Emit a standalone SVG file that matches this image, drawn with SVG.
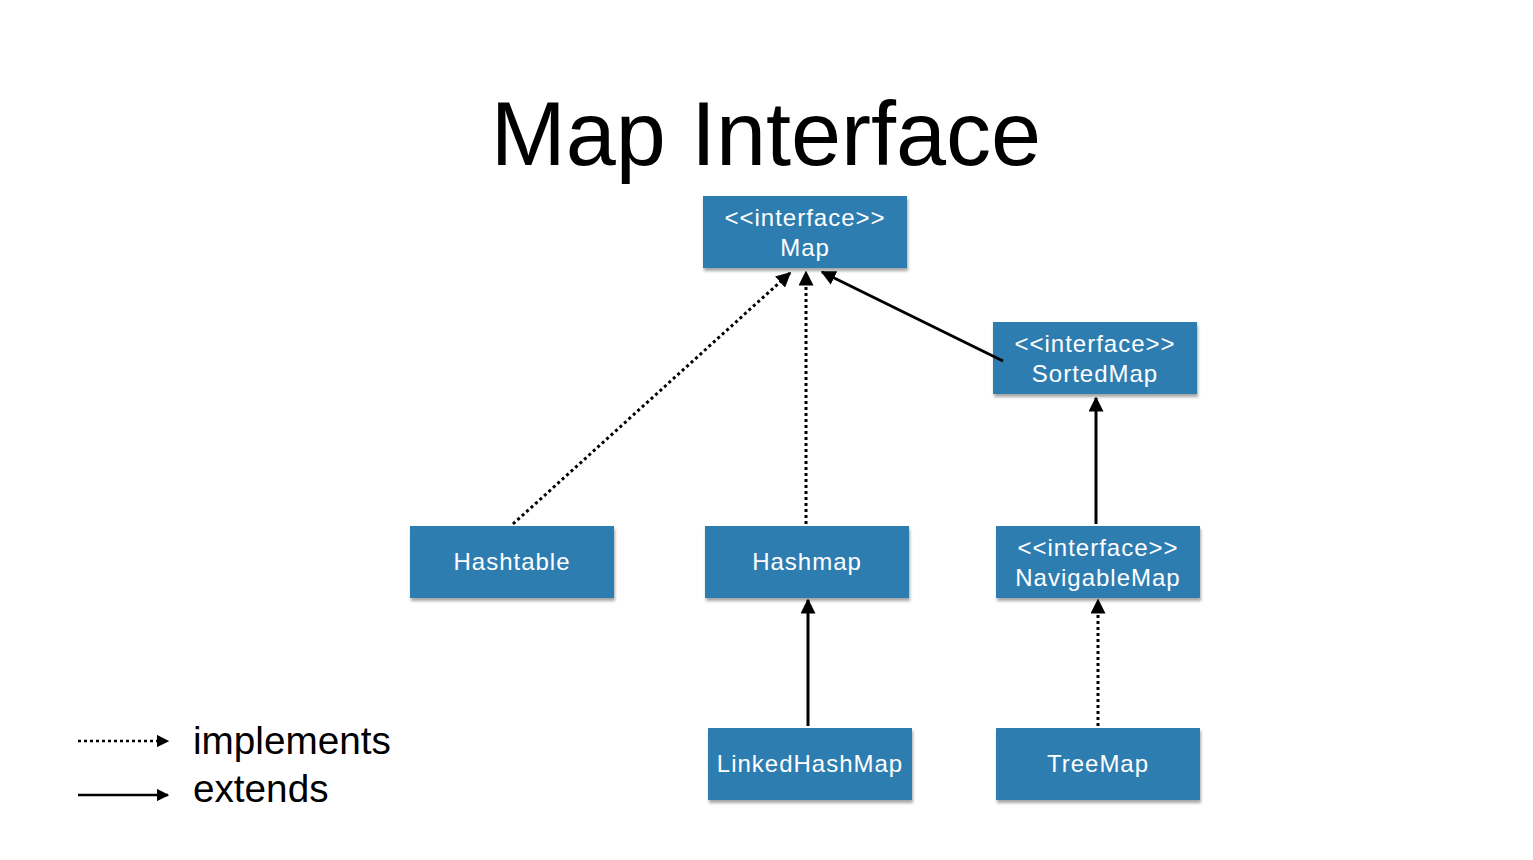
<svg xmlns="http://www.w3.org/2000/svg" width="1533" height="860" viewBox="0 0 1533 860">
<defs>
<marker id="ah" viewBox="0 0 10 10" refX="9" refY="5" markerWidth="5" markerHeight="5" orient="auto" markerUnits="strokeWidth">
<path d="M0,0 L10,5 L0,10 z" fill="#000"/>
</marker>
<filter id="sh" x="-5%" y="-5%" width="110%" height="120%">
<feDropShadow dx="1" dy="3" stdDeviation="1.5" flood-color="#000" flood-opacity="0.35"/>
</filter>
</defs>
<style>
.box{fill:#2f7db1;filter:url(#sh)}
.lbl{font-family:"Liberation Sans",Arial,sans-serif;font-size:24px;letter-spacing:1px;fill:#fff;text-anchor:middle}
.dot{stroke:#000;stroke-width:3;stroke-dasharray:3 3;fill:none;marker-end:url(#ah)}
.sol{stroke:#000;stroke-width:3;fill:none;marker-end:url(#ah)}
.title{font-family:"Liberation Sans",Arial,sans-serif;font-size:90px;fill:#000;text-anchor:middle}
.leg{font-family:"Liberation Sans",Arial,sans-serif;font-size:38.7px;fill:#000}
</style>
<rect width="1533" height="860" fill="#fff"/>
<text class="title" x="766" y="165">Map Interface</text>
<g id="Map"><rect class="box" x="703" y="196" width="204" height="72"/><text class="lbl" x="805" y="226">&lt;&lt;interface&gt;&gt;</text><text class="lbl" x="805" y="256">Map</text></g>
<g id="SortedMap"><rect class="box" x="993" y="322" width="204" height="72"/><text class="lbl" x="1095" y="352">&lt;&lt;interface&gt;&gt;</text><text class="lbl" x="1095" y="382">SortedMap</text></g>
<g id="Hashtable"><rect class="box" x="410" y="526" width="204" height="72"/><text class="lbl" x="512" y="570">Hashtable</text></g>
<g id="Hashmap"><rect class="box" x="705" y="526" width="204" height="72"/><text class="lbl" x="807" y="570">Hashmap</text></g>
<g id="NavigableMap"><rect class="box" x="996" y="526" width="204" height="72"/><text class="lbl" x="1098" y="556">&lt;&lt;interface&gt;&gt;</text><text class="lbl" x="1098" y="586">NavigableMap</text></g>
<g id="LinkedHashMap"><rect class="box" x="708" y="728" width="204" height="72"/><text class="lbl" x="810" y="772">LinkedHashMap</text></g>
<g id="TreeMap"><rect class="box" x="996" y="728" width="204" height="72"/><text class="lbl" x="1098" y="772">TreeMap</text></g>
<g id="connectors">
<line class="dot" x1="513" y1="524" x2="790" y2="273"/>
<line class="dot" x1="806" y1="524" x2="806" y2="272"/>
<line class="sol" x1="1003" y1="361" x2="822" y2="272"/>
<line class="sol" x1="1096" y1="524" x2="1096" y2="398"/>
<line class="sol" x1="808" y1="726" x2="808" y2="600"/>
<line class="dot" x1="1098" y1="726" x2="1098" y2="600"/>
</g>
<g id="legend">
<line class="dot" x1="78" y1="741" x2="168" y2="741" style="stroke-width:2.5"/>
<text class="leg" x="193" y="754">implements</text>
<line class="sol" x1="78" y1="795" x2="168" y2="795" style="stroke-width:2.5"/>
<text class="leg" x="193" y="802">extends</text>
</g>
</svg>
